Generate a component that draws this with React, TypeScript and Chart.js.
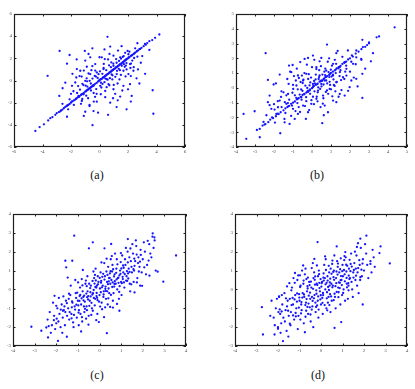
import React, { useEffect, useRef } from "react";
import { Chart, registerables } from "chart.js";

Chart.register(...registerables);

// ---------- data (hand estimated) ----------
const aDiagonal: number[][] = [
  [-4.5,-4.55],[-4.2,-4.2],[-3.9,-3.95],[-3.6,-3.6],[-3.45,-3.4],[-3.3,-3.3],[-3.1,-3.1],[-3.0,-2.95],[-2.85,-2.85],[-2.7,-2.7],
  [-2.6,-2.62],[-2.5,-2.5],[-2.4,-2.38],[-2.3,-2.3],[-2.2,-2.2],[-2.1,-2.12],[-2.0,-2.0],[-1.9,-1.88],[-1.8,-1.8],[-1.7,-1.72],
  [-1.6,-1.6],[-1.5,-1.5],[-1.4,-1.42],[-1.3,-1.3],[-1.2,-1.2],[-1.1,-1.12],[-1.0,-1.0],[-0.9,-0.9],[-0.8,-0.82],[-0.7,-0.7],
  [-0.6,-0.6],[-0.5,-0.52],[-0.4,-0.4],[-0.3,-0.3],[-0.2,-0.22],[-0.1,-0.1],[0,0],[0.1,0.12],[0.2,0.2],[0.3,0.3],
  [0.4,0.42],[0.5,0.5],[0.6,0.6],[0.7,0.72],[0.8,0.8],[0.9,0.9],[1.0,1.02],[1.1,1.1],[1.2,1.2],[1.3,1.32],
  [1.4,1.4],[1.5,1.5],[1.6,1.62],[1.7,1.7],[1.8,1.8],[1.9,1.92],[2.0,2.0],[2.1,2.1],[2.2,2.22],[2.3,2.3],
  [2.4,2.4],[2.5,2.52],[2.6,2.6],[2.7,2.7],[2.8,2.82],[2.95,2.95],[3.1,3.1],[3.5,3.55],[3.7,3.65],[3.9,3.85],[4.2,4.15],
  [-1.95,-1.9],[-1.45,-1.48],[-0.95,-0.98],[-0.45,-0.45],[-0.05,-0.02],[0.05,0.08],[0.15,0.15],[0.25,0.28],[0.35,0.35],[0.45,0.45],
  [0.55,0.58],[0.65,0.65],[0.75,0.75],[0.85,0.88],[0.95,0.95],[1.05,1.05],[1.15,1.18],[1.25,1.25],[1.35,1.35],[1.45,1.48],
  [1.55,1.55],[1.65,1.65],[1.75,1.78],[1.85,1.85],[2.05,2.08],[2.25,2.25],[2.45,2.45],[2.65,2.68],[2.85,2.85],[-0.55,-0.55],
  [-0.65,-0.68],[-0.75,-0.75],[-0.85,-0.85],[-1.25,-1.25],[-1.65,-1.65],[-2.25,-2.25],[-2.75,-2.78],[3.25,3.22],[3.35,3.38]
];
const aCloud: number[][] = [
  [-2.8,2.67],[-3.64,0.42],[-2.28,1.52],[-1.03,2.67],[0.56,3.94],[0.75,3.06],[-0.49,-4.03],[3.78,-3.0],[3.73,-0.88],[2.8,-0.27],
  [3.5,2.76],[3.19,3.3],[2.66,3.36],[-0.65,2.09],[-0.77,2.39],[-1.59,1.03],[-1.63,0.27],[-2.59,-0.7],[-2.82,-1.39],[-2.28,-3.27],
  [-1.0,-2.82],[-1.12,-1.24],[-1.47,-1.39],[-0.42,-2.76],[0.09,-1.24],[0.75,-2.0],[1.28,-1.79],[1.45,-1.45],[1.68,-0.48],[2.14,-0.33],
  [2.26,-1.39],[0.16,2.09],[0.98,2.24],[1.45,2.09],[1.91,1.94],[-0.3,1.48],[-0.89,1.24],[-1.35,0.88],[-1.7,-0.18],[-1.93,-0.48],
  [-2.1,-1.7],[-1.24,-1.85],[-0.7,-2.3],[-0.19,-1.91],[0.4,-0.94],[0.98,-0.79],[0.63,-0.33],[1.21,0.58],[1.68,0.88],[2.03,0.58],
  [2.38,0.88],[1.56,1.33],[0.98,1.33],[0.28,1.03],[-0.19,0.73],[-0.65,0.58],[-1.0,-0.03],[-0.42,-0.48],[0.05,-0.48],[0.51,0.12],
  [2.14,1.48],[2.66,2.15],
  [-1.4,0.4],[-1.2,-0.3],[-0.9,0.2],[-0.6,-0.9],[-0.3,0.9],[0.1,-0.2],[0.3,1.5],[0.6,1.9],[0.9,0.1],[1.2,1.6],
  [1.5,0.5],[1.8,2.5],[2.1,2.6],[2.4,1.2],[2.6,0.2],[-2.0,-1.2],[-1.8,-2.2],[-1.5,-0.5],[-1.3,-2.1],[-1.1,0.9],
  [-0.8,-1.6],[-0.5,1.3],[-0.2,-1.2],[0.2,0.6],[0.4,-1.5],[0.7,2.4],[1.0,-0.4],[1.3,2.7],[1.6,-0.9],[1.9,1.0],
  [2.2,0.4],[2.5,2.9],[-2.4,-0.2],[-2.2,-2.6],[-1.0,1.8],[-0.7,-2.2],[0.0,2.1],[0.5,-0.6],[0.8,1.2],[1.1,-1.2],
  [1.4,0.1],[1.7,2.2],[2.0,-0.8],[2.3,1.8],[2.7,1.0],[3.0,2.2],[-1.6,1.9],[-0.4,-1.9],[0.95,-1.6],[1.55,3.1],
  [-2.6,-2.1],[-1.9,0.6],[0.35,2.8],[2.9,1.6],[-0.1,-2.9],[1.2,-2.4],[-1.1,-3.2],[0.6,-3.1],[2.2,-1.9],[-2.1,2.3],
  [-0.5,2.9],[3.2,0.6],[1.9,-2.6],[-1.25,0.35],[-0.85,-0.55],[-0.25,0.35],[0.35,-0.15],[0.85,0.55],[1.35,1.05],[1.85,1.35]
];
const aCore: number[][] = [
  [-1.37,-0.83],[-1.13,-0.41],[-0.87,-0.07],[-0.61,-0.27],[-0.33,0.41],[-0.07,0.57],[0.21,-0.31],[0.47,0.93],[0.73,0.21],[0.97,1.53],
  [1.23,0.87],[1.51,1.97],[1.77,1.23],[2.03,2.37],[-1.21,-1.67],[-0.93,-1.37],[-0.69,-0.03],[-0.41,-1.13],[-0.13,0.23],[0.13,-0.63],
  [0.41,0.17],[0.67,1.37],[0.91,0.47],[1.17,1.93],[1.43,0.93],[1.71,1.47],[1.97,2.67],[2.21,1.53],[-0.77,0.63],[-0.49,0.17],
  [-0.23,-0.77],[0.03,0.83],[0.29,1.13],[0.57,0.07],[0.83,1.63],[1.11,0.33],[1.37,1.77],[1.63,2.13],[1.89,1.57],[2.17,1.13],
  [-1.57,-1.13],[-1.83,-0.97],[-0.97,-0.47],[-0.57,0.93],[0.69,-0.43],[1.27,-0.27],[1.83,0.37],[0.37,1.93],[-0.31,-1.47],[2.43,2.03]
];

const bDiagonal: number[][] = [
  [-3.46,-3.45],[-2.75,-2.78],[-2.6,-2.55],[-2.45,-2.45],[-2.3,-2.32],[-2.2,-2.15],[-2.05,-2.05],[-1.9,-1.92],[-1.8,-1.75],[-1.65,-1.65],
  [-1.5,-1.52],[-1.4,-1.38],[-1.3,-1.3],[-1.2,-1.22],[-1.1,-1.08],[-1.0,-1.0],[-0.9,-0.92],[-0.8,-0.78],[-0.7,-0.7],[-0.6,-0.62],
  [-0.5,-0.48],[-0.4,-0.4],[-0.3,-0.32],[-0.2,-0.18],[-0.1,-0.1],[0,-0.02],[0.1,0.12],[0.2,0.2],[0.3,0.28],[0.4,0.42],
  [0.5,0.5],[0.6,0.58],[0.7,0.72],[0.8,0.8],[0.9,0.88],[1.0,1.02],[1.1,1.1],[1.2,1.18],[1.3,1.32],[1.4,1.4],
  [1.5,1.48],[1.6,1.62],[1.7,1.7],[1.8,1.78],[1.9,1.92],[2.0,2.0],[2.15,2.12],[2.3,2.32],[2.45,2.45],[2.6,2.62],
  [2.8,2.78],[3.0,3.02],[3.4,3.42],[3.53,3.48],[4.35,4.1],[2.65,3.25],[3.0,3.07],[-2.9,-2.85],[-2.5,-2.48],[-0.25,-0.25],
  [0.25,0.24],[0.75,0.75],[1.25,1.24],[1.75,1.75],[-0.75,-0.74],[-1.25,-1.25],[-1.75,-1.77],[0.05,0.05],[0.45,0.45],[0.95,0.95]
];
const bCloud: number[][] = [
  [-3.6,-1.76],[-3.02,-1.58],[-2.44,2.35],[-2.32,0.54],[-2.02,0.23],[-2.23,-0.52],[-2.32,-0.97],[-2.14,-1.42],[-1.88,-1.76],[-1.44,-2.33],
  [-1.18,-2.44],[-1.21,1.51],[-1.09,1.06],[-0.74,0.84],[-0.39,1.96],[-0.21,2.03],[0.05,2.19],[0.49,2.03],[0.79,2.93],[1.28,2.35],
  [1.89,2.53],[2.33,2.53],[2.68,2.76],[3.21,2.35],[2.59,1.96],[2.65,0.95],[2.33,0.61],[1.98,0.05],[1.72,-0.52],[2.65,-0.68],
  [1.28,-0.97],[0.84,-1.65],[0.54,-2.39],[-0.21,-1.65],[-0.47,-1.2],[-0.74,-1.76],[-0.91,-2.1],[-1.67,-3.07],[-2.75,-3.34],[-1.61,-0.23],
  [-1.26,-0.41],[-0.82,0.16],[-0.47,0.5],[-0.3,0.95],[0.23,1.4],[0.4,0.84],[0.75,1.17],[1.11,1.63],[1.46,1.4],[1.63,0.72],
  [1.28,0.38],[0.93,-0.07],[0.58,-0.52],[0.23,-0.74],[-0.04,-1.08],[-1.35,-1.08],[-1.7,-0.86],[-1.79,-1.31],[-1.0,-1.42],[-0.56,-0.63],
  [-0.12,-0.18],[0.05,0.27],[0.49,0.27],[0.32,-0.18],[0.67,0.5],[1.11,0.84],[1.81,1.29],[2.16,1.63],[2.07,0.5],[1.46,-0.41],
  [1.11,-0.86],[0.67,-1.2],
  [-1.5,-0.3],[-1.4,-1.7],[-1.3,0.6],[-1.2,-0.8],[-1.1,-1.9],[-1.0,0.2],[-0.9,-0.5],[-0.8,1.3],[-0.7,-1.3],[-0.6,0.4],
  [-0.5,-0.2],[-0.4,1.0],[-0.3,-0.9],[-0.2,0.6],[-0.1,-0.4],[0.0,1.4],[0.1,-1.1],[0.2,0.9],[0.3,-0.3],[0.4,1.8],
  [0.5,0.1],[0.6,-0.7],[0.7,1.3],[0.8,0.3],[0.9,2.0],[1.0,-0.1],[1.1,0.9],[1.2,1.9],[1.3,0.4],[1.4,-0.6],
  [1.5,1.2],[1.6,2.1],[1.7,0.6],[1.8,1.5],[1.9,-0.2],[2.0,1.1],[2.1,2.2],[2.2,0.7],[2.3,1.6],[2.4,0.1],
  [-1.8,-0.9],[-1.6,-1.3],[-1.9,0.3],[-2.1,-2.0],[-2.0,-1.1],[-1.7,0.9],[-0.95,0.8],[-0.65,-0.45],[-0.35,0.15],[-0.05,0.7],
  [0.25,-0.6],[0.55,0.9],[0.85,-0.4],[1.15,0.2],[1.45,0.8],[1.75,1.1],[-0.15,-1.5],[0.15,0.3],[0.45,-1.3],[0.75,0.5],
  [1.05,1.5],[1.35,2.5],[-0.45,0.55],[-0.75,-0.1],[-1.05,-1.2],[-1.35,-0.5],[0.05,-0.6],[0.35,0.6],[0.65,1.1],[0.95,0.2],
  [1.25,1.0],[-0.25,0.0],[-0.55,-0.8],[-0.85,0.5],[-1.15,1.1],[-1.45,-2.1],[2.6,1.9],[2.8,1.3],[2.9,2.9],[3.1,1.8],
  [-0.62,1.75],[-1.02,1.55],[0.12,1.9],[0.62,-1.85],[1.55,-0.15],[-2.4,-1.85],[-2.55,-2.3],[-1.95,-2.35],[-0.32,-2.1],[0.38,1.2]
];
const bCore: number[][] = [
  [-0.83,-0.67],[-0.57,-0.11],[-0.31,-0.63],[-0.09,0.37],[0.13,-0.23],[0.37,0.73],[0.61,0.23],[0.87,1.07],[1.13,0.57],[1.39,1.33],
  [-1.03,-0.33],[-0.77,-1.03],[-0.49,0.33],[-0.21,-0.27],[0.07,0.13],[0.29,-0.91],[0.53,0.47],[0.79,-0.17],[1.03,0.77],[1.27,1.63],
  [-1.27,-1.03],[-0.99,-0.07],[-0.69,0.67],[-0.41,-0.43],[-0.17,0.93],[0.19,0.57],[0.43,-0.07],[0.69,0.87],[0.93,0.41],[1.19,0.13],
  [-0.63,-1.63],[-0.37,-1.23],[-0.03,-0.83],[0.23,1.27],[0.47,1.47],[0.73,-0.27],[0.99,1.23],[1.23,-0.23],[1.53,0.53],[1.71,1.73],
  [-1.63,-0.61],[-1.23,0.27],[-0.87,-1.57],[0.33,0.03],[0.63,0.63],[-0.13,0.17],[0.91,0.73],[1.47,1.07],[-0.53,0.83],[0.11,0.47],
  [1.81,0.83],[2.07,1.77],[2.33,2.07],[-1.97,-1.47],[-2.23,-1.17],[-1.43,-0.97],[0.57,-1.07],[1.07,-0.57],[-0.27,1.57],[0.83,1.77]
];

const cCloud: number[][] = [
  [3.54,1.8],[-1.17,2.85],[2.46,2.97],[2.54,2.76],[2.23,2.58],[1.31,2.67],[0.54,2.41],[0.23,2.18],[-0.31,2.5],[-0.49,2.18],
  [-1.58,1.52],[-1.26,1.52],[-1.54,1.17],[-0.77,1.03],[-3.15,-1.98],[-2.69,-2.19],[-2.46,-2.02],[-2.38,-2.55],[-1.92,-2.73],[-1.51,-2.51],
  [-0.85,-2.23],[0.34,-2.32],[-0.15,-1.63],[-2.08,-0.34],[-2.0,-0.87],[-1.69,-1.13],[2.95,0.41],[2.69,0.94],[2.31,0.73],[1.97,0.19],
  [1.62,-0.16],[0.92,-1.13],[0.62,-0.96],
  [-2.4,-1.6],[-2.3,-1.2],[-2.2,-1.9],[-2.1,-1.4],[-2.05,-2.1],[-1.95,-1.0],[-1.9,-1.7],[-1.85,-1.3],[-1.8,-2.0],[-1.75,-0.8],
  [-1.7,-1.5],[-1.65,-1.1],[-1.6,-1.9],[-1.55,-0.6],[-1.5,-1.4],[-2.25,-2.3],[-2.15,-0.7],[-1.98,-1.55],[-1.72,-2.3],[-1.58,-1.2],
  [-2.35,-1.95],[-1.88,-0.45],[-1.62,-0.9],[-2.0,-1.8],
  [-1.45,-1.0],[-1.4,-1.6],[-1.35,-0.3],[-1.3,-1.3],[-1.25,-0.7],[-1.2,-2.0],[-1.15,-0.9],[-1.1,-0.2],[-1.05,-1.5],[-1.0,-0.6],
  [-0.95,-1.1],[-0.9,0.1],[-0.85,-0.8],[-0.8,-1.7],[-0.75,-0.4],[-0.7,-1.2],[-0.65,0.3],[-0.6,-0.9],[-0.55,-0.1],[-0.5,-1.4],
  [-1.42,-0.5],[-1.28,-0.95],[-1.18,-1.35],[-1.08,-0.45],[-0.98,-0.85],[-0.88,-1.3],[-0.78,-0.1],[-0.68,-0.65],[-0.58,-1.1],[-0.52,-0.35],
  [-1.33,0.2],[-1.22,-1.75],[-0.92,-0.35],[-0.72,-0.9],[-0.62,-1.55],[-1.12,0.5],[-0.82,0.55],[-0.56,0.7],[-1.38,-1.2],[-0.96,-1.9],
  [-0.45,-0.6],[-0.4,0.2],[-0.35,-1.0],[-0.3,-0.2],[-0.25,0.6],[-0.2,-0.5],[-0.15,0.1],[-0.1,-1.3],[-0.05,0.4],[0.0,-0.3],
  [0.05,0.9],[0.1,-0.7],[0.15,0.2],[0.2,-0.1],[0.25,0.7],[0.3,-0.5],[0.35,0.4],[0.4,1.2],[0.45,-0.2],[0.5,0.3],
  [-0.42,-0.15],[-0.32,0.45],[-0.22,-0.85],[-0.12,0.2],[-0.02,-0.65],[0.08,0.45],[0.18,-0.4],[0.28,0.15],[0.38,-0.8],[0.48,0.85],
  [-0.38,-1.35],[-0.18,1.1],[0.02,0.05],[0.22,1.4],[0.42,0.05],[-0.28,0.95],[0.12,-1.05],[0.32,0.95],[-0.08,0.7],[0.26,-0.95],
  [-0.48,0.3],[0.44,0.6],[-0.14,-0.35],[0.06,-0.15],[0.36,-0.1],[-0.26,-0.45],
  [0.55,0.5],[0.6,1.3],[0.65,-0.2],[0.7,0.8],[0.75,0.3],[0.8,1.6],[0.85,0.6],[0.9,-0.5],[0.95,1.0],[1.0,0.4],
  [1.05,1.8],[1.1,0.9],[1.15,0.1],[1.2,1.3],[1.25,0.7],[1.3,2.0],[1.35,1.1],[1.4,0.3],[1.45,1.5],[1.5,0.9],
  [0.58,0.95],[0.68,0.15],[0.78,1.1],[0.88,0.35],[0.98,1.45],[1.08,0.55],[1.18,1.6],[1.28,0.45],[1.38,1.7],[1.48,1.2],
  [0.62,-0.6],[0.72,1.9],[0.92,0.75],[1.12,1.15],[1.32,0.85],[0.82,0.0],[1.02,-0.3],[1.22,2.2],[1.42,-0.1],[0.52,1.6],
  [1.55,1.9],[1.6,1.0],[1.65,1.5],[1.7,2.3],[1.75,0.6],[1.8,1.7],[1.85,1.2],[1.9,2.1],[1.95,0.9],[2.0,1.6],
  [2.1,2.0],[2.2,1.3],[2.3,2.4],[2.4,1.7],[2.5,2.2],[1.58,0.4],[1.68,2.6],[1.78,1.4],[1.88,0.2],[2.05,2.5],
  [2.15,0.8],[2.35,1.9],[2.45,2.8],[2.55,2.6],[2.6,1.0],[1.52,2.4],[1.62,1.25],[1.72,1.85],[1.82,0.95]
];
const cCore: number[][] = [
  [-0.83,-0.47],[-0.61,-0.22],[-0.37,-0.71],[-0.19,0.13],[0.07,0.36],[0.29,-0.08],[0.47,0.61],[0.71,0.44],[0.93,0.17],[1.17,0.81],
  [-0.97,-1.23],[-0.74,-0.58],[-0.43,0.07],[-0.11,-0.44],[0.13,0.67],[0.39,0.28],[0.63,1.07],[0.87,0.62],[1.09,1.27],[1.33,0.58],
  [-1.27,-0.63],[-1.03,-0.17],[-0.79,0.21],[-0.53,-0.53],[-0.27,-0.03],[0.03,-0.91],[0.23,0.52],[0.53,-0.29],[0.77,0.88],[1.03,0.33],
  [-0.67,-1.03],[-0.41,-0.37],[-0.17,0.48],[0.11,0.11],[0.37,0.77],[0.59,0.13],[0.83,1.33],[1.07,0.67],[1.31,1.43],[1.57,1.07],
  [-1.13,-1.07],[-0.89,-0.29],[-0.63,0.47],[-0.33,-0.27],[-0.07,0.27],[0.19,-0.27],[0.43,0.43],[0.69,0.29],[0.97,0.83],[1.23,0.47],
  [-0.93,-0.61],[-0.71,-0.33],[-0.47,-0.87],[-0.23,0.31],[0.01,0.61],[0.27,0.03],[0.51,0.97],[0.79,0.53],[1.01,1.11],[1.27,0.97],
  [-1.51,-0.73],[-1.29,-1.53],[-1.07,-0.81],[-0.81,-1.47],[-0.57,-0.41],[-0.31,-1.13],[-0.09,-0.57],[0.17,0.83],[0.41,-0.47],[0.67,0.69],
  [0.91,-0.13],[1.13,0.37],[1.39,0.93],[1.61,1.63],[1.87,1.47],[2.07,1.17],[-1.79,-1.07],[-2.11,-1.63],[-1.67,-0.37],[-1.41,-0.23],
  [0.33,1.63],[0.57,1.77],[0.09,1.43],[-0.21,0.77],[-0.59,0.17],[1.47,0.27],[1.73,0.37],[0.81,-0.77],[0.49,-0.93],[0.21,-1.47],
  [-0.03,-1.73],[-0.51,-1.87],[1.91,1.83],[2.27,1.53],[1.43,2.17],[0.99,1.93],[-1.47,0.63],[-0.99,0.37],[-0.13,-0.19],[0.61,0.37]
];

const dCloud: number[][] = [
  [3.2,1.38],[-2.75,-0.94],[-2.7,-2.39],[-0.16,2.51],[2.11,2.85],[2.77,2.28],[2.72,1.93],[-1.77,-2.74],[0.63,-2.04],[1.94,-0.8],
  [-2.36,-1.4],[-2.16,-2.39],[-2.0,-2.09],[-1.92,-1.06],[-1.95,-0.37],[-1.58,0.16],[-1.06,0.74],[-0.72,1.1],[-0.31,1.62],[0.19,1.75],
  [0.73,2.28],[1.13,1.98],[1.67,2.25],[1.83,2.69],[2.3,1.35],[1.83,0.65],[1.28,-0.05],[0.94,-1.73],[-0.36,-2.0],[-0.75,-2.27],
  [-1.45,-1.82],[-1.3,-1.38],
  [-2.3,-0.6],[-2.2,-1.5],[-2.1,-1.0],[-2.0,-2.0],[-1.95,-0.4],[-1.9,-1.3],[-1.85,-1.8],[-1.8,-0.8],[-1.75,-1.5],[-1.7,-0.2],
  [-1.65,-1.1],[-1.6,-2.2],[-1.55,-0.6],[-1.5,-1.4],[-2.15,-1.9],[-1.98,-1.2],[-1.82,-0.3],[-1.68,-1.7],[-1.58,-0.9],[-2.05,-0.5],
  [-1.52,-2.5],[-1.88,-2.3],
  [-1.45,-0.5],[-1.4,-1.2],[-1.35,0.1],[-1.3,-0.8],[-1.25,-1.6],[-1.2,-0.3],[-1.15,-1.0],[-1.1,0.5],[-1.05,-1.4],[-1.0,-0.6],
  [-0.95,0.2],[-0.9,-1.1],[-0.85,-0.2],[-0.8,-1.8],[-0.75,0.8],[-0.7,-0.7],[-0.65,-0.1],[-0.6,-1.3],[-0.55,0.4],[-0.5,-0.5],
  [-1.42,-1.9],[-1.32,-0.45],[-1.22,0.35],[-1.12,-0.65],[-1.02,-0.25],[-0.92,-0.8],[-0.82,0.3],[-0.72,-1.45],[-0.62,0.05],[-0.52,-0.95],
  [-1.38,-0.05],[-1.18,-1.25],[-0.98,0.75],[-0.78,-0.4],[-0.58,-0.75],[-1.08,-2.1],[-0.88,1.0],[-0.68,0.55],[-0.96,-1.6],[-1.28,0.6],
  [-0.45,0.1],[-0.4,-0.9],[-0.35,0.6],[-0.3,-0.3],[-0.25,-1.2],[-0.2,0.3],[-0.15,-0.6],[-0.1,1.0],[-0.05,-0.1],[0.0,-0.8],
  [0.05,0.4],[0.1,-0.3],[0.15,1.3],[0.2,0.0],[0.25,-1.0],[0.3,0.7],[0.35,-0.4],[0.4,0.2],[0.45,1.1],[0.5,-0.6],
  [-0.42,-0.4],[-0.32,0.9],[-0.22,-0.05],[-0.12,-1.5],[-0.02,0.55],[0.08,-1.3],[0.18,0.6],[0.28,-0.15],[0.38,0.9],[0.48,0.3],
  [-0.38,1.4],[-0.18,-0.85],[0.02,0.15],[0.22,1.6],[0.42,-0.25],[-0.28,0.25],[0.12,0.85],[0.32,-0.7],[-0.08,0.35],[0.26,0.35],
  [-0.48,-1.7],[0.44,-1.2],[-0.14,0.7],[0.06,-0.45],[0.36,1.25],[-0.26,-0.7],
  [0.55,0.2],[0.6,1.0],[0.65,-0.4],[0.7,0.6],[0.75,1.5],[0.8,0.1],[0.85,0.9],[0.9,-0.8],[0.95,0.5],[1.0,1.3],
  [1.05,0.0],[1.1,0.8],[1.15,1.7],[1.2,0.3],[1.25,-0.5],[1.3,1.1],[1.35,0.6],[1.4,1.9],[1.45,0.0],[1.5,0.9],
  [0.58,0.65],[0.68,-1.0],[0.78,1.2],[0.88,0.35],[0.98,-0.3],[1.08,1.55],[1.18,0.95],[1.28,0.2],[1.38,1.35],[1.48,-0.4],
  [0.62,1.8],[0.72,0.95],[0.92,1.65],[1.12,-0.6],[1.32,0.55],[0.82,-0.15],[1.02,0.7],[1.22,1.25],[1.42,0.4],[0.52,1.35],
  [1.55,1.4],[1.6,0.5],[1.65,1.8],[1.7,0.9],[1.75,-0.2],[1.8,1.3],[1.85,2.2],[1.9,0.7],[1.95,1.6],[2.0,1.0],
  [2.1,1.9],[2.2,0.6],[2.3,1.5],[2.4,2.1],[2.5,1.2],[1.58,2.0],[1.68,0.2],[1.78,1.55],[1.88,1.05],[2.05,2.4],
  [2.15,1.3],[2.35,0.9],[2.45,1.7],[1.62,1.1],[1.72,2.45],[1.82,0.5]
];
const dCore: number[][] = [
  [-0.87,-0.43],[-0.63,0.17],[-0.39,-0.61],[-0.17,0.23],[0.09,-0.19],[0.31,0.47],[0.53,0.11],[0.77,0.79],[0.97,0.23],[1.19,0.61],
  [-1.03,-0.97],[-0.79,-0.27],[-0.47,0.41],[-0.13,-0.37],[0.11,0.63],[0.37,-0.03],[0.61,0.51],[0.89,1.07],[1.11,0.43],[1.37,0.97],
  [-1.23,-0.53],[-0.97,0.13],[-0.73,-0.83],[-0.51,-0.17],[-0.29,0.51],[-0.03,-0.53],[0.21,0.27],[0.47,-0.37],[0.71,0.33],[0.93,0.71],
  [-0.67,-0.51],[-0.43,-1.07],[-0.21,-0.23],[0.03,0.33],[0.27,-0.47],[0.49,0.83],[0.73,-0.13],[0.99,0.97],[1.21,0.11],[1.43,1.21],
  [-1.11,-0.21],[-0.91,-0.67],[-0.61,0.63],[-0.37,0.03],[-0.09,0.81],[0.17,-0.83],[0.43,0.57],[0.67,0.17],[0.91,0.49],[1.17,1.31],
  [-0.81,0.47],[-0.57,-0.33],[-0.33,-0.47],[-0.07,0.07],[0.13,0.47],[0.33,0.13],[0.57,0.93],[0.83,0.37],[1.07,1.03],[1.29,0.73],
  [-1.37,-0.83],[-1.17,-1.43],[-0.93,-1.27],[-0.69,-1.13],[-0.49,-1.33],[-0.23,-0.93],[0.07,-0.71],[0.29,-1.11],[0.59,-0.57],[0.81,-0.41],
  [1.03,-0.19],[1.27,0.33],[1.51,0.63],[1.73,1.13],[1.93,1.37],[-1.63,-0.47],[-1.83,-1.17],[-1.47,0.33],[-1.21,0.87],[-0.83,1.27],
  [-0.43,1.13],[-0.19,1.27],[0.23,1.03],[0.53,1.53],[0.79,1.37],[1.09,1.77],[1.33,1.57],[0.39,-0.83],[-0.11,-1.07],[-0.63,-0.93],
  [-1.01,-0.43],[-0.27,0.69],[0.63,-0.23],[1.53,1.03],[1.63,0.73],[-1.53,-1.13],[-0.01,-0.31],[0.41,0.37],[-0.53,0.23],[0.87,0.07]
];

// axis ranges and steps: [min, max, step]
const aRange = [-6, 6, 2];
const bRange = [-4, 5, 1];
const cXRange = [-4, 4, 1];
const cYRange = [-3, 4, 1];
const dXRange = [-4, 4, 1];
const dYRange = [-3, 4, 1];

const captions = ["(a)", "(b)", "(c)", "(d)"];

// ---------- rendering ----------
const POINT_COLOR = "#1414ff";

const boxPlugin = {
  id: "matlabBox",
  afterDraw(chart: any) {
    const { ctx, chartArea } = chart;
    const { left, top, right, bottom } = chartArea;
    const xs = chart.scales.x;
    const ys = chart.scales.y;
    ctx.save();
    ctx.strokeStyle = "#1e1e1e";
    ctx.lineWidth = 1;
    ctx.beginPath();
    for (const t of xs.ticks) {
      const px = Math.round(xs.getPixelForValue(t.value)) + 0.5;
      ctx.moveTo(px, bottom);
      ctx.lineTo(px, bottom - 2.5);
      ctx.moveTo(px, top);
      ctx.lineTo(px, top + 2.5);
    }
    for (const t of ys.ticks) {
      const py = Math.round(ys.getPixelForValue(t.value)) + 0.5;
      ctx.moveTo(left, py);
      ctx.lineTo(left + 2.5, py);
      ctx.moveTo(right, py);
      ctx.lineTo(right - 2.5, py);
    }
    ctx.stroke();
    ctx.lineWidth = 1.2;
    ctx.strokeRect(left + 0.5, top + 0.5, right - left - 1, bottom - top - 1);
    ctx.restore();
  },
};

type PanelProps = {
  plot: [number, number, number, number]; // left, top, right, bottom on page
  xr: number[];
  yr: number[];
  sets: number[][][];
};

function Panel({ plot, xr, yr, sets }: PanelProps) {
  const ref = useRef<HTMLCanvasElement | null>(null);
  const [pl, pt, pr, pb] = plot;
  const w = pr - pl + 20;
  const h = pb - pt + 16;
  useEffect(() => {
    if (!ref.current) return;
    const tickFont = { size: 5, family: "Liberation Serif" };
    const chart = new Chart(ref.current, {
      type: "scatter",
      data: {
        datasets: sets.map((s) => ({
          data: s.map(([x, y]) => ({ x, y })),
          backgroundColor: POINT_COLOR,
          borderWidth: 0,
          pointRadius: 1.15,
          pointHoverRadius: 1.15,
        })),
      },
      options: {
        responsive: false,
        animation: false,
        events: [],
        layout: { padding: { left: 4, top: 6, right: 6, bottom: 2 } },
        plugins: { legend: { display: false }, tooltip: { enabled: false } },
        scales: {
          x: {
            type: "linear",
            min: xr[0],
            max: xr[1],
            ticks: { stepSize: xr[2], font: tickFont, color: "#555", padding: 2, autoSkip: false, maxRotation: 0 },
            grid: { display: false, drawTicks: false },
            border: { display: false },
            afterFit: (s: any) => { s.height = 8; },
          },
          y: {
            type: "linear",
            min: yr[0],
            max: yr[1],
            ticks: { stepSize: yr[2], font: tickFont, color: "#555", padding: 2, autoSkip: false },
            grid: { display: false, drawTicks: false },
            border: { display: false },
            afterFit: (s: any) => { s.width = 10; },
          },
        },
      },
      plugins: [boxPlugin],
    } as any);
    return () => chart.destroy();
  }, []);
  return (
    <canvas
      ref={ref}
      width={w}
      height={h}
      style={{ position: "absolute", left: pl - 14, top: pt - 6, width: w, height: h }}
    />
  );
}

function Caption({ text, cx, cy }: { text: string; cx: number; cy: number }) {
  return (
    <div
      style={{
        position: "absolute",
        left: cx - 20,
        top: cy - 8,
        width: 40,
        height: 16,
        lineHeight: "16px",
        textAlign: "center",
        fontFamily: "'Liberation Serif', 'DejaVu Serif', serif",
        fontSize: 12,
        color: "#111",
      }}
    >
      {text}
    </div>
  );
}

export default function App() {
  return (
    <div style={{ position: "absolute", left: 0, top: 0, width: 415, height: 389, background: "#fff", overflow: "hidden" }}>
      <Panel plot={[14, 14, 185, 147]} xr={aRange} yr={aRange} sets={[aDiagonal, aCloud, aCore]} />
      <Panel plot={[236, 14, 407, 147]} xr={bRange} yr={bRange} sets={[bDiagonal, bCloud, bCore]} />
      <Panel plot={[13, 214, 186, 346]} xr={cXRange} yr={cYRange} sets={[cCloud, cCore]} />
      <Panel plot={[235, 214, 407, 346]} xr={dXRange} yr={dYRange} sets={[dCloud, dCore]} />
      <Caption text={captions[0]} cx={97} cy={175} />
      <Caption text={captions[1]} cx={317} cy={175} />
      <Caption text={captions[2]} cx={97} cy={375} />
      <Caption text={captions[3]} cx={318} cy={375} />
    </div>
  );
}
